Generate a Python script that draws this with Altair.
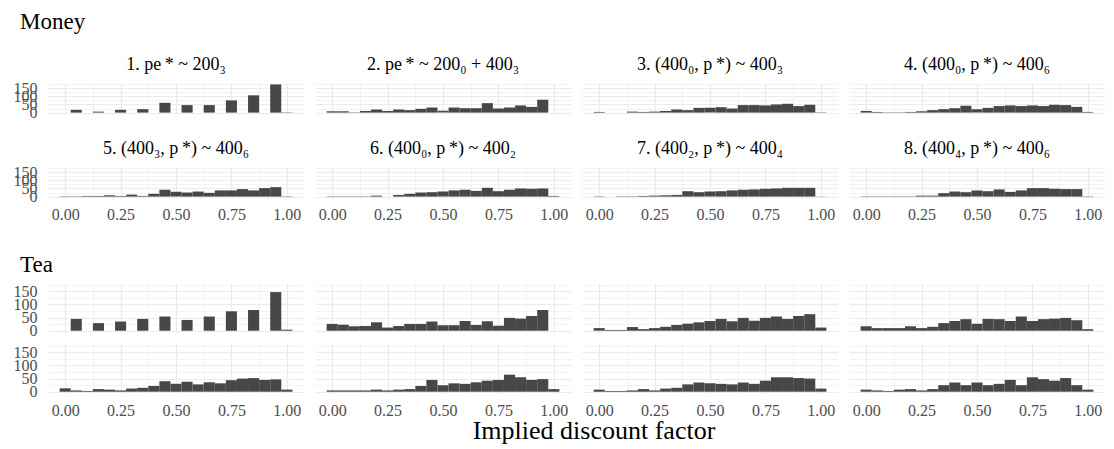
import altair as alt
import pandas as pd

# ---------------- data ----------------
bin_centers = [0.0, 0.05, 0.1, 0.15, 0.2, 0.25, 0.3, 0.35, 0.4, 0.45, 0.5,
               0.55, 0.6, 0.65, 0.7, 0.75, 0.8, 0.85, 0.9, 0.95, 1.0]

money_titles = [
    "1. pe\u2009* ~ 200₃",
    "2. pe\u2009* ~ 200₀ + 400₃",
    "3. (400₀, p\u2009*) ~ 400₃",
    "4. (400₀, p\u2009*) ~ 400₆",
    "5. (400₃, p\u2009*) ~ 400₆",
    "6. (400₀, p\u2009*) ~ 400₂",
    "7. (400₂, p\u2009*) ~ 400₄",
    "8. (400₄, p\u2009*) ~ 400₆",
]

money_p1 = [0, 17, 0, 6, 0, 17, 0, 21, 0, 60, 0, 46, 0, 46, 0, 75, 0, 106, 0, 173, 2]
money_p2 = [8, 8, 2, 10, 19, 10, 19, 15, 23, 31, 12, 31, 27, 27, 58, 25, 31, 44, 35, 79, 0]
money_p3 = [4, 0, 0, 6, 4, 6, 10, 19, 15, 29, 29, 33, 25, 46, 46, 44, 50, 54, 40, 48, 2]
money_p4 = [10, 4, 2, 2, 4, 8, 15, 21, 27, 42, 21, 29, 40, 44, 40, 44, 40, 48, 46, 35, 4]
money_p5 = [2, 2, 4, 4, 8, 4, 12, 4, 17, 42, 29, 25, 31, 23, 38, 38, 46, 38, 52, 58, 2]
money_p6 = [2, 2, 2, 2, 6, 0, 10, 17, 25, 27, 31, 38, 42, 35, 54, 33, 42, 50, 48, 50, 4]
money_p7 = [2, 0, 2, 2, 4, 6, 8, 10, 33, 27, 31, 33, 38, 42, 44, 48, 50, 54, 54, 54, 1]
money_p8 = [2, 2, 2, 2, 2, 6, 6, 21, 31, 27, 38, 33, 44, 29, 38, 52, 52, 48, 46, 46, 2]
money_counts = [money_p1, money_p2, money_p3, money_p4,
                money_p5, money_p6, money_p7, money_p8]

tea_p1 = [0, 45, 0, 29, 0, 35, 0, 45, 0, 54, 0, 41, 0, 54, 0, 74, 0, 79, 0, 147, 4]
tea_p2 = [26, 23, 17, 18, 32, 12, 18, 26, 26, 35, 21, 21, 37, 22, 36, 19, 49, 46, 56, 79, 0]
tea_p3 = [10, 3, 3, 14, 6, 10, 15, 22, 27, 32, 37, 45, 36, 49, 38, 49, 54, 45, 56, 63, 12]
tea_p4 = [17, 10, 10, 10, 17, 10, 15, 29, 37, 44, 27, 45, 44, 37, 54, 37, 44, 46, 49, 40, 6]
tea_p5 = [13, 5, 3, 10, 8, 5, 12, 15, 22, 40, 30, 38, 28, 36, 32, 44, 50, 52, 45, 47, 8]
tea_p6 = [5, 5, 5, 5, 8, 5, 8, 10, 22, 45, 25, 32, 30, 36, 42, 45, 65, 55, 45, 48, 10]
tea_p7 = [8, 3, 3, 5, 10, 5, 12, 15, 28, 35, 32, 30, 28, 35, 30, 42, 55, 55, 52, 50, 12]
tea_p8 = [8, 5, 3, 8, 10, 5, 10, 25, 35, 25, 35, 25, 30, 45, 25, 55, 48, 42, 52, 25, 8]
tea_counts = [tea_p1, tea_p2, tea_p3, tea_p4, tea_p5, tea_p6, tea_p7, tea_p8]

x_grid_values = [0.0, 0.125, 0.25, 0.375, 0.5, 0.625, 0.75, 0.875, 1.0]
y_grid_values = [0, 25, 50, 75, 100, 125, 150, 175]

# ---------------- style ----------------
FONT = "Liberation Serif"
BAR = "#474747"
GRID = "#EBEBEB"
LABEL = "#4D4D4D"
PW = 256
MH = 31
TH = 50
BINW = 0.05


def panel(counts, title, first_col, bottom_row, h):
    df = pd.DataFrame({"center": bin_centers, "count": counts})
    xaxis = alt.Axis(
        values=x_grid_values,
        labels=bottom_row,
        labelExpr="(abs(datum.value*4 - round(datum.value*4)) < 0.001) ? format(datum.value, '.2f') : ''",
        labelFont=FONT, labelFontSize=16, labelColor=LABEL, labelPadding=8,
        labelOverlap=False, labelFlush=False,
        ticks=False, tickSize=0, domain=False, title=None,
        grid=True, gridColor=GRID,
        gridWidth={"condition": {"test": "abs(datum.value*4 - round(datum.value*4)) < 0.001", "value": 1.2}, "value": 0.6},
    )
    yaxis = alt.Axis(
        values=y_grid_values,
        labels=first_col,
        labelExpr="datum.value % 50 === 0 ? datum.label : ''",
        labelFont=FONT, labelFontSize=16, labelColor=LABEL, labelPadding=11,
        labelOverlap=False, labelFlush=False,
        ticks=False, tickSize=0, domain=False, title=None,
        grid=True, gridColor=GRID,
        gridWidth={"condition": {"test": "datum.value % 50 === 0", "value": 1.2}, "value": 0.6},
    )
    bars = alt.Chart(df).transform_calculate(
        x0=f"datum.center - {BINW / 2}",
        x1=f"datum.center + {BINW / 2}",
        base="0",
    ).mark_bar(color=BAR).encode(
        x=alt.X("x0:Q", scale=alt.Scale(domain=[-0.0775, 1.0775], nice=False, zero=False), axis=xaxis),
        x2="x1:Q",
        y=alt.Y("count:Q", scale=alt.Scale(domain=[-8.65, 181.65], nice=False, zero=False), axis=yaxis),
        y2="base:Q",
    )
    if title:
        ttl = alt.Chart(pd.DataFrame({"t": [title]})).mark_text(
            font=FONT, fontSize=18, align="center", baseline="alphabetic", color="black"
        ).encode(text="t:N", x=alt.value(PW / 2), y=alt.value(-13))
        return alt.layer(bars, ttl).properties(width=PW, height=h)
    return bars.properties(width=PW, height=h)


def text_chart(txt, x, y, size, h, align="left", baseline="alphabetic"):
    return alt.Chart(pd.DataFrame({"t": [txt]})).mark_text(
        font=FONT, fontSize=size, align=align, baseline=baseline, color="black"
    ).encode(text="t:N", x=alt.value(x), y=alt.value(y)).properties(width=PW, height=h)


def blank(h):
    return text_chart("", PW / 2, h / 2, 2, h, baseline="middle")


def row_of(first, h):
    return [first] + [blank(h) for _ in range(3)]


items = []
items += row_of(text_chart("Money", -28, 21, 23, 75), 75)
items += [panel(money_counts[i], money_titles[i], i == 0, False, MH) for i in range(4)]
items += row_of(blank(53), 53)
items += [panel(money_counts[i], money_titles[i], i == 4, True, MH) for i in range(4, 8)]
items += row_of(text_chart("Tea", -28, 74, 23, 85), 85)
items += [panel(tea_counts[i], None, i == 0, False, TH) for i in range(4)]
items += row_of(blank(11), 11)
items += [panel(tea_counts[i], None, i == 4, True, TH) for i in range(4, 8)]
items += row_of(text_chart("Implied discount factor", 546, 45, 26, 47, "center"), 47)

chart = alt.concat(
    *items, columns=4, spacing={"row": 0, "column": 11}, bounds="flush"
).properties(
    padding={"left": 5, "top": 0, "right": 0, "bottom": 0}
).configure(font=FONT).configure_view(strokeWidth=0, stroke=None)

chart.save("out.html", embed_options={"renderer": "svg", "actions": False})
